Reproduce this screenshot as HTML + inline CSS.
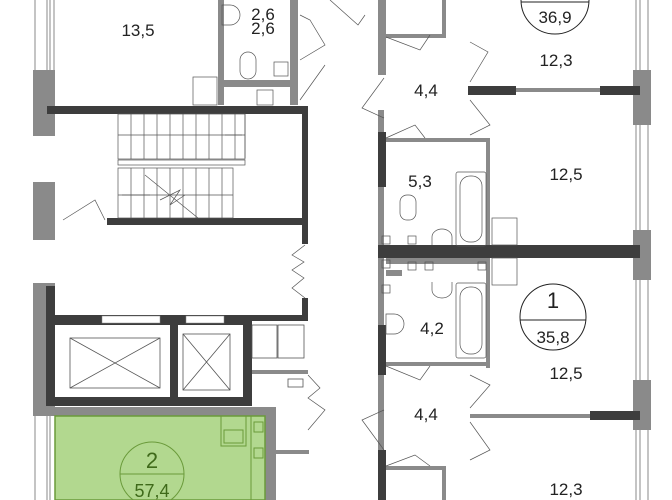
<!DOCTYPE html>
<html><head><meta charset="utf-8"><style>
html,body{margin:0;padding:0;background:#fff;width:672px;height:500px;overflow:hidden}
svg text{font-family:"Liberation Sans",sans-serif;fill:#222}
</style></head><body>
<svg width="672" height="500" viewBox="0 0 672 500" xmlns="http://www.w3.org/2000/svg">
<g fill="#8a8a8a">
<rect x="33" y="70" width="22" height="66"/>
<rect x="33" y="182" width="22" height="58"/>
<rect x="33" y="283" width="22" height="132"/>
<rect x="33" y="407" width="243" height="9"/>
<rect x="218" y="0" width="6" height="105"/>
<rect x="290" y="0" width="8" height="105"/>
<rect x="224" y="80" width="66" height="7"/>
<rect x="252" y="370" width="56" height="4"/>
<rect x="265" y="416" width="11" height="84"/>
<rect x="276" y="450" width="33" height="4"/>
<rect x="378" y="0" width="8" height="75"/>
<rect x="378" y="110" width="6" height="140"/>
<rect x="378" y="258" width="6" height="200"/>
<rect x="386" y="138" width="100" height="4"/>
<rect x="486" y="138" width="4" height="110"/>
<rect x="386" y="362" width="100" height="4"/>
<rect x="486" y="258" width="4" height="110"/>
<rect x="386" y="34" width="60" height="4"/>
<rect x="442" y="0" width="4" height="36"/>
<rect x="468" y="88" width="170" height="4"/>
<rect x="470" y="414" width="170" height="4"/>
<rect x="386" y="466" width="60" height="4"/>
<rect x="442" y="466" width="4" height="34"/>
<rect x="633" y="70" width="18" height="55"/>
<rect x="633" y="230" width="18" height="50"/>
<rect x="633" y="380" width="18" height="50"/>
<rect x="386" y="258" width="100" height="6"/>
<rect x="386" y="270" width="16" height="6"/>
</g>
<g fill="none" stroke="#888" stroke-width="1">
<path d="M35 0V70M47 0V70M50 0V70M54 0V70"/>
<path d="M35 416V500M47 416V500M50 416V500"/>
<path d="M636 0V70M640 0V70M648 0V70M636 125V230M640 125V230M648 125V230M636 280V380M640 280V380M648 280V380M636 430V500M640 430V500M648 430V500"/>
</g>
<g fill="#3d3d3d">
<rect x="47" y="106" width="261" height="8"/>
<rect x="302" y="106" width="6" height="138"/>
<rect x="107" y="218" width="200" height="7"/>
<rect x="46" y="286" width="9" height="120"/>
<rect x="46" y="315" width="206" height="10"/>
<rect x="46" y="397" width="206" height="9"/>
<rect x="170" y="315" width="8" height="90"/>
<rect x="243" y="315" width="9" height="90"/>
<rect x="252" y="315" width="56" height="6"/>
<rect x="302" y="298" width="6" height="23"/>
<rect x="378" y="132" width="8" height="55"/>
<rect x="378" y="245" width="262" height="13"/>
<rect x="468" y="86" width="48" height="9"/>
<rect x="600" y="86" width="40" height="9"/>
<rect x="378" y="325" width="8" height="50"/>
<rect x="590" y="411" width="50" height="9"/>
<rect x="378" y="450" width="8" height="50"/>
</g>
<rect x="102" y="316" width="58" height="7" fill="#fff" stroke="#888" stroke-width="0.5"/>
<rect x="186" y="316" width="38" height="7" fill="#fff" stroke="#888" stroke-width="0.5"/>
<g fill="none" stroke="#555" stroke-width="0.8">
<rect x="70" y="338" width="90" height="50"/><path d="M70 338L160 388M160 338L70 388"/>
<rect x="183" y="334" width="47" height="56"/><path d="M183 334L230 390M230 334L183 390"/>
<rect x="252" y="325" width="25" height="33"/><rect x="278" y="325" width="26" height="33"/>
<rect x="288" y="379" width="15" height="8"/>
</g>
<g fill="none" stroke="#555" stroke-width="0.7">
<rect x="118" y="114" width="127" height="45"/>
<path d="M118 135H245M131 114V159M144 114V159M157 114V159M170 114V159M183 114V159M196 114V159M209 114V159M222 114V159M235 114V159"/>
<rect x="118" y="160" width="127" height="5"/>
<rect x="118" y="168" width="115" height="50"/>
<path d="M118 195H233M131 168V218M144 168V218M157 168V218M170 168V218M183 168V218M196 168V218M209 168V218M222 168V218"/>
<path d="M145 175L198 218M160 200L180 190L170 205L185 195"/>
<path d="M245 114V158M225 135H242M150 195H122"/>
<path d="M63 220L95 200L105 220"/>
<path d="M222 5h8a10 10 0 0 1 0 20h-8z"/>
<rect x="240" y="52" width="16" height="27" rx="8"/>
<rect x="193" y="77" width="24" height="28"/>
<rect x="274" y="62" width="14" height="14"/>
<rect x="257" y="90" width="16" height="15"/>
<path d="M300 15L310 20L325 45L300 60M300 100L325 65"/>
<path d="M305 245L292 255L304 262L292 270L304 278L292 288L305 298"/>
<path d="M308 375L320 388L308 398L325 410L308 430"/>
<path d="M330 0L358 25L365 15"/>
<path d="M384 78L362 108L384 118M386 37L420 50L430 35M470 42L488 52L470 82M470 100L490 125L470 135M386 138L415 125L425 138"/>
<path d="M384 410L362 420L384 450M386 366L420 380L430 366M470 375L490 385L470 408M470 422L490 450L470 460M386 466L415 455L430 466"/>
<rect x="456" y="172" width="30" height="74" rx="2"/><rect x="460" y="176" width="22" height="66" rx="10"/>
<rect x="400" y="195" width="16" height="25" rx="7"/>
<path d="M432 245v-8a10 8 0 0 1 20 0v8"/>
<rect x="492" y="218" width="25" height="27"/>
<rect x="382" y="236" width="8" height="8"/><rect x="408" y="236" width="8" height="8"/>
<rect x="456" y="283" width="30" height="75" rx="2"/><rect x="460" y="287" width="22" height="67" rx="10"/>
<path d="M432 282v8a10 8 0 0 0 20 0v-8"/>
<path d="M386 314h8a10 10 0 0 1 0 20h-8z"/>
<rect x="492" y="258" width="25" height="27"/>
<rect x="382" y="260" width="8" height="8"/><rect x="382" y="285" width="8" height="8"/><rect x="408" y="262" width="8" height="8"/><rect x="425" y="262" width="8" height="8"/><rect x="478" y="262" width="8" height="8"/>
</g>
<rect x="55" y="416" width="210" height="84" fill="#b2d88f" stroke="#6a9a3a" stroke-width="1.5"/>
<g fill="none" stroke="#6a9a3a" stroke-width="1">
<rect x="221" y="416" width="25" height="30"/><rect x="224" y="430" width="19" height="13"/>
<rect x="251" y="416" width="14" height="84"/>
<rect x="254" y="422" width="9" height="10"/><rect x="254" y="448" width="9" height="10"/>
<circle cx="152" cy="474" r="32"/><path d="M120 474H184"/>
</g>
<text x="152" y="468" font-size="22" text-anchor="middle" style="fill:#3f6a1a">2</text>
<text x="152" y="497" font-size="18" text-anchor="middle" style="fill:#3f6a1a">57,4</text>
<g fill="none" stroke="#222" stroke-width="1">
<circle cx="555" cy="0" r="34"/><path d="M521 2H589"/>
<circle cx="553" cy="317" r="33"/><path d="M520 320H586"/>
</g>
<g font-size="17" text-anchor="middle">
<text x="555" y="23">36,9</text>
<text x="553" y="308" font-size="22">1</text>
<text x="553" y="343">35,8</text>
<text x="138" y="36">13,5</text>
<text x="263" y="20">2,6</text>
<text x="263" y="34">2,6</text>
<text x="426" y="96">4,4</text>
<text x="556" y="66">12,3</text>
<text x="566" y="180">12,5</text>
<text x="420" y="187">5,3</text>
<text x="432" y="334">4,2</text>
<text x="566" y="379">12,5</text>
<text x="426" y="420">4,4</text>
<text x="566" y="495">12,3</text>
</g>
</svg>
</body></html>
